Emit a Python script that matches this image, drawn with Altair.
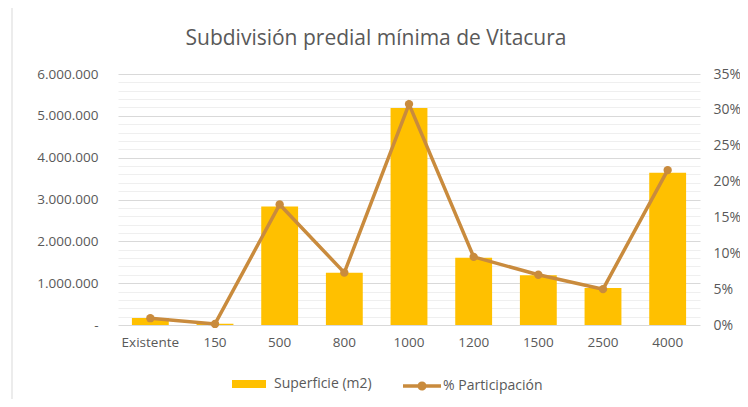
import altair as alt
import pandas as pd

categorias = ['Existente', '150', '500', '800', '1000', '1200', '1500', '2500', '4000']
superficie = [168000, 32000, 2830000, 1250000, 5190000, 1610000, 1190000, 885000, 3640000]
participacion = [0.0095, 0.0015, 0.168, 0.073, 0.308, 0.095, 0.070, 0.050, 0.216]
titulo = ['Subdivisión predial mínima de Vitacura']

df = pd.DataFrame({'cat': categorias, 'sup': superficie, 'pct': participacion})

FONT = 'Open Sans'
GREY = '#595959'
BAR = '#FFC000'
LINE = '#C98B3D'

left_vals = list(range(0, 6000001, 200000))
pct_vals = [0, 0.05, 0.10, 0.15, 0.20, 0.25, 0.30, 0.35]

x_enc = alt.X('cat:N', sort=categorias, title=None,
              scale=alt.Scale(paddingInner=0.43, paddingOuter=0.215),
              axis=alt.Axis(labelAngle=0, domain=False, ticks=False, grid=False, labelPadding=10,
                            labelFont=FONT, labelFontSize=13.5, labelColor=GREY))

bar_path = 'M-1,-0.24H1V0.24H-1Z'
line_path = ('M-1,-0.09H-0.2V0.09H-1Z M0.2,-0.09H1V0.09H0.2Z '
             'M-0.24,0A0.24,0.24 0 1,1 0.24,0A0.24,0.24 0 1,1 -0.24,0Z')

bars = alt.Chart(df).transform_calculate(s1="'Superficie (m2)'").mark_bar().encode(
    x=x_enc,
    y=alt.Y('sup:Q', title=None,
            scale=alt.Scale(domain=[0, 6000000], nice=False),
            axis=alt.Axis(values=left_vals, domain=False, ticks=False, labelPadding=20,
                          labelFont=FONT, labelFontSize=13.5, labelColor=GREY,
                          labelExpr="datum.value % 1000000 === 0 ? (datum.value === 0 ? '-' : replace(replace(format(datum.value, ','), ',', '.'), ',', '.')) : ''",
                          gridColor={"condition": {"test": "datum.value % 1000000 === 0", "value": "#d9d9d9"}, "value": "#efefef"},
                          gridWidth=1)),
    color=alt.Color('s1:N', scale=alt.Scale(domain=['Superficie (m2)'], range=[BAR]),
                    legend=alt.Legend(title=None, orient='none', legendX=114, legendY=293,
                                      symbolType=bar_path, symbolSize=1156, symbolStrokeWidth=0,
                                      labelOffset=8, padding=0,
                                      labelFont=FONT, labelFontSize=14, labelColor=GREY))
)

y_right = alt.Y('pct:Q', title=None,
                scale=alt.Scale(domain=[0, 0.35], nice=False),
                axis=alt.Axis(orient='right', values=pct_vals, format='.0%', grid=False,
                              domain=False, ticks=False, labelPadding=13,
                              labelFont=FONT, labelFontSize=14, labelColor=GREY))

line = alt.Chart(df).mark_line(color=LINE, strokeWidth=3.5).encode(
    x=x_enc, y=y_right
)
points = alt.Chart(df).transform_calculate(s2="'% Participación'").mark_point(
    filled=True, size=70, opacity=1
).encode(
    x=x_enc, y=y_right,
    color=alt.Color('s2:N', scale=alt.Scale(domain=['% Participación'], range=[LINE]),
                    legend=alt.Legend(title=None, orient='none', legendX=285, legendY=293,
                                      symbolType=line_path, symbolSize=1444, symbolStrokeWidth=0,
                                      symbolOpacity=1, labelOffset=2, padding=0,
                                      labelFont=FONT, labelFontSize=14, labelColor=GREY))
)

frame = alt.Chart(alt.Data(values=[{}])).mark_rect(
    fill='transparent', stroke='#d9d9d9', strokeWidth=1
).encode(x=alt.value(-106), x2=alt.value(700), y=alt.value(-68), y2=alt.value(400))

title = alt.Chart(alt.Data(values=[{'t': t} for t in titulo])).mark_text(
    font=FONT, fontSize=21, color=GREY, align='center', baseline='middle'
).encode(text='t:N', x=alt.value(258), y=alt.value(-35))

right_layer = alt.layer(line, points)

chart = alt.layer(frame, title, bars, right_layer).resolve_scale(
    y='independent', color='independent'
).properties(
    width=582, height=251,
    autosize=alt.AutoSizeParams(type='none'),
    padding={'left': 110, 'top': 66, 'right': 40, 'bottom': 74},
    view=alt.ViewBackground(stroke=None, strokeWidth=0),
).configure_view(stroke=None, strokeWidth=0).configure(background='white')

chart.save('out.html', embed_options={'renderer': 'svg', 'actions': False})
